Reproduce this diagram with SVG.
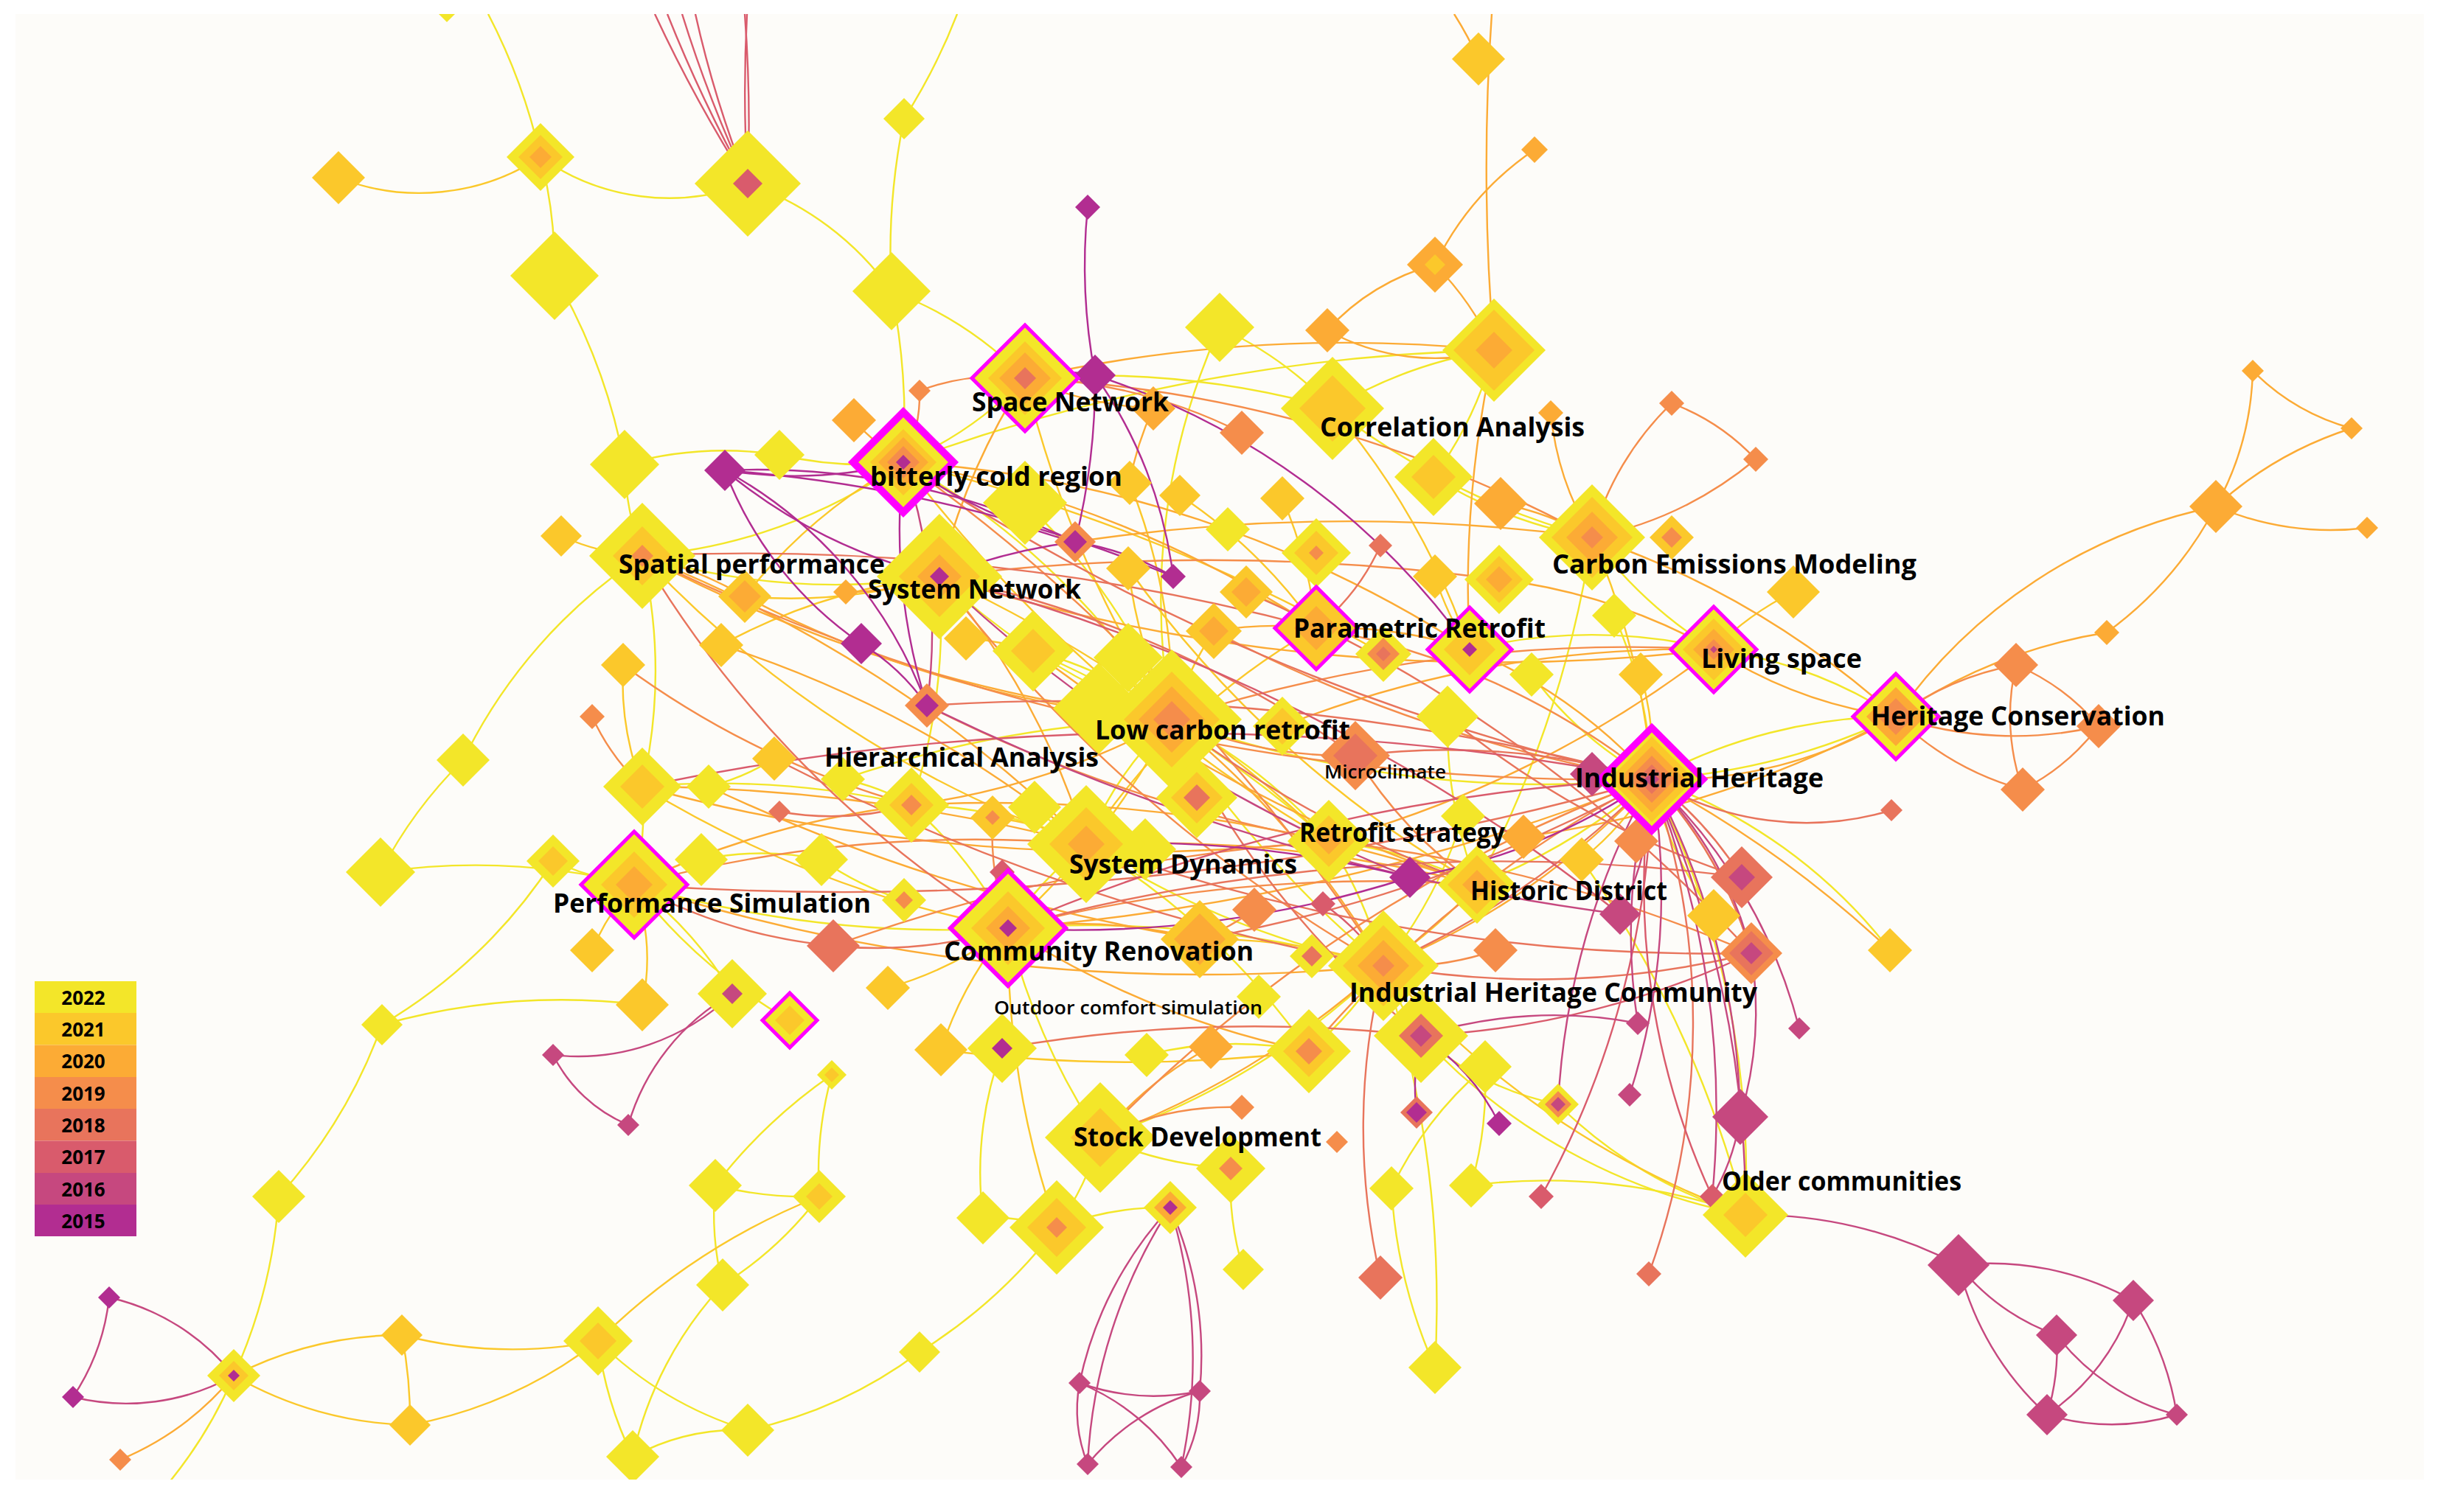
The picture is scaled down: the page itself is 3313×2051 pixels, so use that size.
<svg xmlns="http://www.w3.org/2000/svg" width="3313" height="2051" viewBox="0 0 3313 2051">
<defs>
<path id="d" d="M0,-1L1,0L0,1L-1,0Z"/>
<clipPath id="cp"><rect x="21" y="19" width="3266" height="1988"/></clipPath>
<style>
.a{fill:#f3e629}.b{fill:#fbc82b}.c{fill:#fcab35}.e{fill:#f58d4b}.f{fill:#e8745c}.g{fill:#d95b6c}.h{fill:#c6487f}.i{fill:#b22d91}
.hl{fill:none;stroke:#ff00ff;stroke-linejoin:miter}
#edges path{fill:none;stroke-width:2.4}
.la{stroke:#f3e629}.lb{stroke:#fbc82b}.lc{stroke:#fcab35}.le{stroke:#f58d4b}.lf{stroke:#e8745c}.lg{stroke:#d95b6c}.lh{stroke:#c6487f}.li{stroke:#b22d91}
.lbl{font-family:"Open Sans","Noto Sans","Liberation Sans",sans-serif;font-weight:700;font-size:36px;fill:#000}
.sm{font-size:25px;font-weight:600}
.lg2{font-family:"Open Sans","Noto Sans","Liberation Sans",sans-serif;font-weight:700;font-size:26px;fill:#000;text-anchor:middle}
</style>
</defs>
<rect width="3313" height="2051" fill="#ffffff"/>
<rect x="21" y="19" width="3266" height="1988" fill="#fdfcf9"/>
<g clip-path="url(#cp)">
<g id="edges">
<g class="la">
<path d="M662,19A800,800 0 0 1 733,213"/>
<path d="M733,213A300,300 0 0 0 1014,249"/>
<path d="M733,213A600,600 0 0 1 752,374"/>
<path d="M752,374A800,800 0 0 1 847,630"/>
<path d="M1014,249A400,400 0 0 1 1209,395"/>
<path d="M1209,395A500,500 0 0 1 1390,513"/>
<path d="M1298,19A800,800 0 0 1 1226,161"/>
<path d="M1226,161A900,900 0 0 0 1209,395"/>
<path d="M1209,395A900,900 0 0 1 1225,627"/>
<path d="M847,630A500,500 0 0 1 1057,617"/>
<path d="M1057,617A500,500 0 0 0 1225,627"/>
<path d="M847,630A400,400 0 0 0 871,754"/>
<path d="M871,754A700,700 0 0 1 871,1067"/>
<path d="M1225,627A700,700 0 0 1 871,754"/>
<path d="M1654,444A500,500 0 0 1 1807,554"/>
<path d="M1807,554A600,600 0 0 1 2026,475"/>
<path d="M2026,475A500,500 0 0 1 1944,647"/>
<path d="M1944,647A600,600 0 0 0 2159,729"/>
<path d="M2159,729A600,600 0 0 0 2324,881"/>
<path d="M1390,682A800,800 0 0 1 1589,976"/>
<path d="M1274,782A900,900 0 0 0 1589,976"/>
<path d="M1589,976A700,700 0 0 1 1802,1141"/>
<path d="M1802,1141A600,600 0 0 1 1876,1310"/>
<path d="M1473,1145A500,500 0 0 0 1367,1259"/>
<path d="M1367,1259A900,900 0 0 0 1492,1543"/>
<path d="M1492,1543A400,400 0 0 1 1433,1665"/>
<path d="M1492,1543A500,500 0 0 0 1669,1585"/>
<path d="M1876,1310A500,500 0 0 1 1775,1426"/>
<path d="M1876,1310A400,400 0 0 0 1927,1405"/>
<path d="M2003,1200A800,800 0 0 0 2240,1057"/>
<path d="M2240,1057A700,700 0 0 1 2571,972"/>
<path d="M860,1200A900,900 0 0 0 516,1183"/>
<path d="M860,1200A500,500 0 0 1 993,1348"/>
<path d="M860,1200A700,700 0 0 0 1071,1384"/>
<path d="M516,1183A600,600 0 0 1 628,1031"/>
<path d="M378,1623A700,700 0 0 0 518,1390"/>
<path d="M518,1390A700,700 0 0 0 750,1168"/>
<path d="M518,1390A900,900 0 0 1 871,1363"/>
<path d="M378,1623A700,700 0 0 1 317,1866"/>
<path d="M317,1866A600,600 0 0 1 230,2010"/>
<path d="M811,1819A500,500 0 0 0 1014,1940"/>
<path d="M811,1819A500,500 0 0 0 858,1976"/>
<path d="M858,1976A300,300 0 0 1 1014,1940"/>
<path d="M980,1743A500,500 0 0 0 858,1976"/>
<path d="M980,1743A400,400 0 0 1 970,1608"/>
<path d="M980,1743A500,500 0 0 0 1111,1623"/>
<path d="M970,1608A500,500 0 0 0 1111,1623"/>
<path d="M970,1608A700,700 0 0 1 1128,1458"/>
<path d="M1111,1623A500,500 0 0 1 1128,1458"/>
<path d="M1014,1940A600,600 0 0 0 1247,1834"/>
<path d="M1247,1834A700,700 0 0 0 1433,1665"/>
<path d="M1946,1855A700,700 0 0 1 1887,1612"/>
<path d="M1887,1612A500,500 0 0 1 2014,1447"/>
<path d="M1995,1608A500,500 0 0 0 2014,1447"/>
<path d="M1686,1722A400,400 0 0 1 1669,1585"/>
<path d="M2367,1648A1200,1200 0 0 0 2240,1057"/>
<path d="M2367,1648A800,800 0 0 1 1927,1405"/>
<path d="M2113,1498A600,600 0 0 0 2367,1648"/>
<path d="M1995,1608A800,800 0 0 1 2367,1648"/>
<path d="M628,1031A700,700 0 0 1 871,754"/>
<path d="M750,1168A400,400 0 0 0 860,1200"/>
<path d="M951,1166A400,400 0 0 1 1114,1166"/>
<path d="M1114,1166A400,400 0 0 0 1226,1221"/>
<path d="M1236,1092A600,600 0 0 1 1473,1145"/>
<path d="M1403,1095A300,300 0 0 0 1473,1145"/>
<path d="M1401,883A500,500 0 0 1 1589,976"/>
<path d="M1530,892A500,500 0 0 0 1623,1082"/>
<path d="M1993,881A700,700 0 0 1 2324,881"/>
<path d="M2077,915A500,500 0 0 0 2240,1057"/>
<path d="M2189,835A600,600 0 0 1 2240,1057"/>
<path d="M1963,972A600,600 0 0 0 2003,1200"/>
<path d="M1984,1107A600,600 0 0 1 1876,1310"/>
<path d="M2324,1242A500,500 0 0 1 2240,1057"/>
<path d="M2563,1289A700,700 0 0 0 2240,1057"/>
<path d="M1946,1855A1500,1500 0 0 0 1876,1310"/>
<path d="M1433,1665A400,400 0 0 1 1587,1638"/>
<path d="M1775,1426A500,500 0 0 0 1555,1431"/>
<path d="M1333,1652A500,500 0 0 1 1359,1422"/>
<path d="M1433,1665A300,300 0 0 0 1333,1652"/>
<path d="M2324,881A600,600 0 0 1 2571,972"/>
<path d="M1225,627A500,500 0 0 0 1390,513"/>
<path d="M1225,627A1000,1000 0 0 1 1589,976"/>
<path d="M871,1067A400,400 0 0 1 860,1200"/>
<path d="M871,754A900,900 0 0 0 1274,782"/>
<path d="M1473,1145A1200,1200 0 0 0 1876,1310"/>
<path d="M1367,1259A1500,1500 0 0 1 1876,1310"/>
<path d="M1589,976A1500,1500 0 0 0 2240,1057"/>
<path d="M1390,513A1200,1200 0 0 1 1807,554"/>
<path d="M1807,554A1000,1000 0 0 0 2159,729"/>
<path d="M1274,782A800,800 0 0 1 1236,1092"/>
<path d="M1589,976A500,500 0 0 0 1473,1145"/>
<path d="M1802,1141A600,600 0 0 1 2003,1200"/>
<path d="M1876,1310A1000,1000 0 0 1 1492,1543"/>
<path d="M860,1200A1500,1500 0 0 0 1367,1259"/>
<path d="M871,1067A1200,1200 0 0 1 1236,1092"/>
<path d="M1236,1092A600,600 0 0 1 1367,1259"/>
<path d="M961,1067A300,300 0 0 0 1050,1029"/>
<path d="M1143,1057A300,300 0 0 1 1236,1092"/>
<path d="M1927,1405A400,400 0 0 0 2113,1498"/>
<path d="M1654,444A900,900 0 0 0 1589,976"/>
<path d="M2571,972A900,900 0 0 1 2240,1057"/>
<path d="M1143,1057A1500,1500 0 0 1 1589,976"/>
<path d="M1530,892A1500,1500 0 0 0 1876,1310"/>
<path d="M2145,1166A1500,1500 0 0 1 2367,1648"/>
<path d="M1225,627A2500,2500 0 0 1 2026,475"/>
<path d="M1473,1145A1000,1000 0 0 1 1775,1426"/>
<path d="M2159,729A1500,1500 0 0 1 2003,1200"/>
<path d="M1401,883A1500,1500 0 0 1 1802,1141"/>
</g>
<g class="lb">
<path d="M459,241A300,300 0 0 0 733,213"/>
<path d="M761,727A300,300 0 0 0 871,754"/>
<path d="M1010,809A700,700 0 0 0 1274,782"/>
<path d="M978,875A800,800 0 0 1 1274,782"/>
<path d="M845,902A400,400 0 0 0 871,1067"/>
<path d="M1310,866A400,400 0 0 1 1401,883"/>
<path d="M1532,655A800,800 0 0 1 1589,976"/>
<path d="M1739,676A600,600 0 0 1 1785,852"/>
<path d="M1946,782A400,400 0 0 0 1993,881"/>
<path d="M2432,803A400,400 0 0 0 2324,881"/>
<path d="M2225,915A400,400 0 0 1 2240,1057"/>
<path d="M1646,856A500,500 0 0 0 1589,976"/>
<path d="M545,1811A500,500 0 0 0 317,1866"/>
<path d="M556,1933A500,500 0 0 1 317,1866"/>
<path d="M545,1811A600,600 0 0 0 811,1819"/>
<path d="M556,1933A600,600 0 0 0 811,1819"/>
<path d="M545,1811A600,600 0 0 1 556,1933"/>
<path d="M811,1819A900,900 0 0 1 1111,1623"/>
<path d="M803,1289A300,300 0 0 1 860,1200"/>
<path d="M871,1363A300,300 0 0 0 860,1200"/>
<path d="M1204,1340A500,500 0 0 0 1367,1259"/>
<path d="M1276,1424A500,500 0 0 1 1367,1259"/>
<path d="M2145,1166A400,400 0 0 0 2240,1057"/>
<path d="M1627,1274A800,800 0 0 1 1876,1310"/>
<path d="M1690,803A400,400 0 0 1 1785,852"/>
<path d="M1530,771A700,700 0 0 0 1589,976"/>
<path d="M1600,672A700,700 0 0 1 1785,852"/>
<path d="M1010,809A700,700 0 0 1 1225,627"/>
<path d="M1346,1109A400,400 0 0 1 1473,1145"/>
<path d="M1274,782A2000,2000 0 0 1 1802,1141"/>
<path d="M871,754A1500,1500 0 0 0 1473,1145"/>
<path d="M1225,627A2000,2000 0 0 0 1802,1141"/>
<path d="M1390,513A1500,1500 0 0 0 1589,976"/>
<path d="M2159,729A1000,1000 0 0 1 2240,1057"/>
<path d="M1785,852A900,900 0 0 0 1473,1145"/>
<path d="M2003,1200A700,700 0 0 1 1876,1310"/>
<path d="M1876,1310A1200,1200 0 0 0 2367,1648"/>
<path d="M1367,1259A1200,1200 0 0 0 1433,1665"/>
<path d="M871,1067A1500,1500 0 0 0 1367,1259"/>
<path d="M1530,771A1500,1500 0 0 0 2003,1200"/>
<path d="M1276,1424A2000,2000 0 0 0 1775,1426"/>
<path d="M1225,627A2500,2500 0 0 1 1876,887"/>
<path d="M1807,554A1000,1000 0 0 1 1993,881"/>
<path d="M1589,976A1000,1000 0 0 1 1367,1259"/>
</g>
<g class="lc">
<path d="M1972,19A500,500 0 0 1 2005,80"/>
<path d="M2023,19A3000,3000 0 0 0 2026,475"/>
<path d="M2081,203A400,400 0 0 0 1946,359"/>
<path d="M1946,359A300,300 0 0 0 1800,448"/>
<path d="M1800,448A300,300 0 0 0 2026,475"/>
<path d="M1946,359A400,400 0 0 1 2026,475"/>
<path d="M1158,570A300,300 0 0 0 1225,627"/>
<path d="M1564,554A500,500 0 0 1 1390,513"/>
<path d="M1564,554A400,400 0 0 0 1532,655"/>
<path d="M2035,683A400,400 0 0 1 2159,729"/>
<path d="M2103,560A400,400 0 0 0 2159,729"/>
<path d="M2033,786A800,800 0 0 1 2324,881"/>
<path d="M1646,856A500,500 0 0 1 1785,852"/>
<path d="M1785,852A600,600 0 0 1 1993,881"/>
<path d="M1627,1274A700,700 0 0 0 1367,1259"/>
<path d="M1642,1420A500,500 0 0 0 1492,1543"/>
<path d="M2571,972A700,700 0 0 1 3005,687"/>
<path d="M3005,687A400,400 0 0 0 3055,503"/>
<path d="M3005,687A500,500 0 0 1 3189,581"/>
<path d="M3005,687A400,400 0 0 0 3210,716"/>
<path d="M3055,503A300,300 0 0 0 3189,581"/>
<path d="M2857,858A500,500 0 0 0 3005,687"/>
<path d="M2571,972A700,700 0 0 1 2857,858"/>
<path d="M1147,803A400,400 0 0 0 1274,782"/>
<path d="M1010,809A500,500 0 0 0 871,754"/>
<path d="M163,1980A400,400 0 0 0 317,1866"/>
<path d="M871,754A2000,2000 0 0 0 1589,976"/>
<path d="M1274,782A2500,2500 0 0 0 2324,881"/>
<path d="M860,1200A2500,2500 0 0 0 1876,1310"/>
<path d="M1225,627A1500,1500 0 0 1 1785,852"/>
<path d="M871,1067A2500,2500 0 0 0 1802,1141"/>
<path d="M1236,1092A2000,2000 0 0 1 2003,1200"/>
<path d="M1390,513A900,900 0 0 0 1274,782"/>
<path d="M1274,782A1000,1000 0 0 1 1473,1145"/>
<path d="M1473,1145A1800,1800 0 0 1 2003,1200"/>
<path d="M2240,1057A600,600 0 0 0 2571,972"/>
<path d="M2159,729A1200,1200 0 0 1 2571,972"/>
<path d="M1993,881A700,700 0 0 1 2240,1057"/>
<path d="M1589,976A1200,1200 0 0 1 1876,1310"/>
<path d="M1367,1259A1200,1200 0 0 0 1775,1426"/>
<path d="M1876,1310A1000,1000 0 0 0 2240,1057"/>
<path d="M1802,1141A1500,1500 0 0 0 2324,881"/>
<path d="M2324,881A600,600 0 0 0 2571,972"/>
<path d="M2240,1057A600,600 0 0 1 2375,1293"/>
<path d="M1236,1092A1000,1000 0 0 0 1589,976"/>
<path d="M860,1200A1200,1200 0 0 1 1236,1092"/>
<path d="M871,754A1800,1800 0 0 1 1473,1145"/>
<path d="M1225,627A1600,1600 0 0 1 1993,881"/>
<path d="M2240,1057A1500,1500 0 0 1 2563,1289"/>
<path d="M1492,1543A1200,1200 0 0 0 1876,1310"/>
<path d="M1010,809A1500,1500 0 0 0 1589,976"/>
<path d="M978,875A1500,1500 0 0 1 1473,1145"/>
<path d="M961,1067A2500,2500 0 0 0 1627,1274"/>
<path d="M1458,735A2500,2500 0 0 1 2159,729"/>
<path d="M1739,985A1500,1500 0 0 1 2324,881"/>
<path d="M2066,1135A1500,1500 0 0 0 2571,972"/>
<path d="M1390,513A2000,2000 0 0 1 2026,475"/>
<path d="M871,1067A2500,2500 0 0 1 1473,1145"/>
<path d="M1367,1259A3000,3000 0 0 0 2240,1057"/>
<path d="M2026,475A1500,1500 0 0 0 1993,881"/>
<path d="M1401,883A2000,2000 0 0 0 2003,1200"/>
</g>
<g class="le">
<path d="M2267,547A400,400 0 0 0 2159,729"/>
<path d="M2381,623A500,500 0 0 1 2159,729"/>
<path d="M2267,547A300,300 0 0 1 2381,623"/>
<path d="M1684,587A700,700 0 0 0 1390,513"/>
<path d="M1247,530A200,200 0 0 1 1225,627"/>
<path d="M1247,530A300,300 0 0 1 1390,513"/>
<path d="M1838,1025A600,600 0 0 1 1589,976"/>
<path d="M2734,902A400,400 0 0 0 2571,972"/>
<path d="M2846,985A500,500 0 0 1 2571,972"/>
<path d="M2743,1071A400,400 0 0 1 2571,972"/>
<path d="M2734,902A300,300 0 0 0 2743,1071"/>
<path d="M2734,902A300,300 0 0 1 2846,985"/>
<path d="M2743,1071A300,300 0 0 0 2846,985"/>
<path d="M2219,1141A300,300 0 0 0 2240,1057"/>
<path d="M2028,1289A400,400 0 0 1 1876,1310"/>
<path d="M1684,1502A400,400 0 0 0 1492,1543"/>
<path d="M1346,1109A400,400 0 0 0 1367,1259"/>
<path d="M803,972A300,300 0 0 0 871,1067"/>
<path d="M1701,1234A300,300 0 0 1 1627,1274"/>
<path d="M1225,627A2500,2500 0 0 1 1876,1310"/>
<path d="M1274,782A2000,2000 0 0 0 1876,1310"/>
<path d="M871,754A3000,3000 0 0 0 2240,1057"/>
<path d="M1589,976A2000,2000 0 0 1 2324,881"/>
<path d="M1785,852A1000,1000 0 0 1 2240,1057"/>
<path d="M1367,1259A2000,2000 0 0 1 2003,1200"/>
<path d="M860,1200A1800,1800 0 0 1 1473,1145"/>
<path d="M1390,513A1800,1800 0 0 1 2159,729"/>
<path d="M1492,1543A2000,2000 0 0 1 2240,1057"/>
<path d="M845,902A1200,1200 0 0 0 1236,1092"/>
<path d="M1257,957A2000,2000 0 0 0 1802,1141"/>
<path d="M1646,856A2000,2000 0 0 0 2240,1057"/>
<path d="M1775,1426A1500,1500 0 0 1 2240,1057"/>
<path d="M1130,1283A2500,2500 0 0 1 1802,1141"/>
<path d="M1274,782A3000,3000 0 0 1 2033,786"/>
<path d="M1802,1141A2000,2000 0 0 1 2375,1293"/>
<path d="M1838,1025A600,600 0 0 0 2003,1200"/>
</g>
<g class="lf">
<path d="M2565,1099A400,400 0 0 1 2240,1057"/>
<path d="M2362,1190A500,500 0 0 0 2240,1057"/>
<path d="M2375,1293A600,600 0 0 0 2240,1057"/>
<path d="M1872,1733A900,900 0 0 1 1876,1310"/>
<path d="M2236,1728A1000,1000 0 0 0 2240,1057"/>
<path d="M1057,1101A400,400 0 0 0 1236,1092"/>
<path d="M1130,1283A600,600 0 0 0 1367,1259"/>
<path d="M1872,740A300,300 0 0 1 1785,852"/>
<path d="M860,1200A4000,4000 0 0 0 2240,1057"/>
<path d="M1257,957A3000,3000 0 0 1 2240,1057"/>
<path d="M1225,627A3000,3000 0 0 0 2240,1057"/>
<path d="M1473,1145A2500,2500 0 0 0 2375,1293"/>
<path d="M1367,1259A2500,2500 0 0 1 2362,1190"/>
<path d="M1589,976A1200,1200 0 0 0 1927,1405"/>
<path d="M871,754A1500,1500 0 0 0 1367,1259"/>
<path d="M1838,1025A1000,1000 0 0 1 2240,1057"/>
<path d="M1876,1310A1200,1200 0 0 0 2375,1293"/>
<path d="M1274,782A1500,1500 0 0 1 1838,1025"/>
<path d="M1130,1283A700,700 0 0 1 860,1200"/>
<path d="M1050,1029A3000,3000 0 0 0 1876,1310"/>
<path d="M1690,803A2000,2000 0 0 1 2375,1293"/>
<path d="M1963,972A1200,1200 0 0 0 2362,1190"/>
<path d="M1627,1274A2000,2000 0 0 0 2240,1057"/>
<path d="M1359,1422A2000,2000 0 0 1 1927,1405"/>
<path d="M871,754A3000,3000 0 0 1 1785,852"/>
<path d="M1589,976A1500,1500 0 0 0 2003,1200"/>
<path d="M2240,1057A1200,1200 0 0 1 1876,1310"/>
</g>
<g class="lg">
<path d="M888,19A2000,2000 0 0 0 1014,249"/>
<path d="M905,19A2000,2000 0 0 0 1014,249"/>
<path d="M925,19A1800,1800 0 0 0 1014,249"/>
<path d="M943,19A1500,1500 0 0 0 1014,249"/>
<path d="M1010,19A2000,2000 0 0 1 1014,249"/>
<path d="M1013,19A2000,2000 0 0 0 1014,249"/>
<path d="M1359,1183A300,300 0 0 0 1367,1259"/>
<path d="M1794,1226A300,300 0 0 1 1876,1310"/>
<path d="M2090,1623A1200,1200 0 0 0 2240,1057"/>
<path d="M2322,1623A1000,1000 0 0 1 2240,1057"/>
<path d="M871,1067A3500,3500 0 0 1 2240,1057"/>
<path d="M1274,782A2500,2500 0 0 1 2197,1240"/>
<path d="M1367,1259A2500,2500 0 0 1 2240,1057"/>
<path d="M1927,1405A1200,1200 0 0 0 2375,1293"/>
</g>
<g class="lh">
<path d="M750,1431A300,300 0 0 0 993,1348"/>
<path d="M852,1526A300,300 0 0 1 993,1348"/>
<path d="M750,1431A200,200 0 0 0 852,1526"/>
<path d="M2159,1050A200,200 0 0 1 2240,1057"/>
<path d="M2240,1057A1000,1000 0 0 1 2360,1515"/>
<path d="M2240,1057A800,800 0 0 0 2221,1388"/>
<path d="M2240,1057A900,900 0 0 1 2210,1485"/>
<path d="M2240,1057A1000,1000 0 0 0 2113,1498"/>
<path d="M2240,1057A700,700 0 0 1 2440,1395"/>
<path d="M2240,1057A500,500 0 0 1 2375,1293"/>
<path d="M2240,1057A1200,1200 0 0 1 2322,1623"/>
<path d="M2656,1716A600,600 0 0 0 2367,1648"/>
<path d="M2656,1716A300,300 0 0 0 2789,1811"/>
<path d="M2656,1716A400,400 0 0 1 2893,1764"/>
<path d="M2656,1716A400,400 0 0 0 2776,1919"/>
<path d="M2789,1811A300,300 0 0 1 2776,1919"/>
<path d="M2893,1764A400,400 0 0 1 2952,1919"/>
<path d="M2789,1811A300,300 0 0 0 2952,1919"/>
<path d="M2776,1919A300,300 0 0 0 2952,1919"/>
<path d="M2893,1764A300,300 0 0 1 2776,1919"/>
<path d="M1587,1638A500,500 0 0 0 1464,1876"/>
<path d="M1587,1638A500,500 0 0 1 1627,1887"/>
<path d="M1587,1638A700,700 0 0 0 1475,1986"/>
<path d="M1587,1638A700,700 0 0 1 1602,1990"/>
<path d="M1464,1876A200,200 0 0 0 1475,1986"/>
<path d="M1627,1887A200,200 0 0 1 1602,1990"/>
<path d="M1464,1876A300,300 0 0 1 1602,1990"/>
<path d="M1627,1887A300,300 0 0 0 1475,1986"/>
<path d="M1464,1876A300,300 0 0 0 1627,1887"/>
<path d="M317,1866A300,300 0 0 0 148,1760"/>
<path d="M317,1866A300,300 0 0 1 99,1895"/>
<path d="M148,1760A300,300 0 0 1 99,1895"/>
<path d="M2197,1240A400,400 0 0 0 2240,1057"/>
<path d="M2360,1515A300,300 0 0 1 2322,1623"/>
<path d="M2375,1293A500,500 0 0 1 2360,1515"/>
<path d="M1927,1405A600,600 0 0 1 2221,1388"/>
<path d="M1225,627A700,700 0 0 1 1257,957"/>
<path d="M2240,1057A1400,1400 0 0 1 2367,1648"/>
<path d="M1274,782A2000,2000 0 0 0 1912,1190"/>
<path d="M1257,957A3000,3000 0 0 0 2197,1240"/>
</g>
<g class="li">
<path d="M1475,281A800,800 0 0 0 1485,509"/>
<path d="M1485,509A600,600 0 0 1 1591,782"/>
<path d="M1485,509A1000,1000 0 0 1 1993,881"/>
<path d="M1485,509A200,200 0 0 0 1390,513"/>
<path d="M983,638A1000,1000 0 0 1 1458,735"/>
<path d="M983,638A600,600 0 0 1 1257,957"/>
<path d="M983,638A500,500 0 0 0 1168,873"/>
<path d="M983,638A700,700 0 0 0 1274,782"/>
<path d="M1225,627A800,800 0 0 0 1257,957"/>
<path d="M1168,873A300,300 0 0 1 1257,957"/>
<path d="M1912,1190A1500,1500 0 0 0 1473,1145"/>
<path d="M1912,1190A800,800 0 0 0 2240,1057"/>
<path d="M1921,1509A300,300 0 0 1 1927,1405"/>
<path d="M2033,1524A300,300 0 0 0 1927,1405"/>
<path d="M1458,735A400,400 0 0 1 1591,782"/>
<path d="M1274,782A800,800 0 0 1 1458,735"/>
<path d="M1225,627A700,700 0 0 0 1458,735"/>
<path d="M1367,1259A1500,1500 0 0 0 1912,1190"/>
<path d="M983,638A600,600 0 0 0 1225,627"/>
<path d="M1485,509A900,900 0 0 1 1458,735"/>
<path d="M983,638A2000,2000 0 0 1 1591,782"/>
</g>
</g>
<g id="nodes">
<g id="n1" transform="translate(606,17)"><use href="#d" class="a" transform="scale(13)"/></g>
<g id="n2" transform="translate(459,241)"><use href="#d" class="b" transform="scale(36)"/></g>
<g id="n3" transform="translate(733,213)"><use href="#d" class="a" transform="scale(46)"/><use href="#d" class="b" transform="scale(30)"/><use href="#d" class="c" transform="scale(15)"/></g>
<g id="n4" transform="translate(1014,249)"><use href="#d" class="a" transform="scale(72)"/><use href="#d" class="g" transform="scale(20)"/></g>
<g id="n5" transform="translate(1226,161)"><use href="#d" class="a" transform="scale(28)"/></g>
<g id="n6" transform="translate(752,374)"><use href="#d" class="a" transform="scale(60)"/></g>
<g id="n7" transform="translate(1209,395)"><use href="#d" class="a" transform="scale(53)"/></g>
<g id="n8" transform="translate(2005,80)"><use href="#d" class="b" transform="scale(36)"/></g>
<g id="n9" transform="translate(2081,203)"><use href="#d" class="c" transform="scale(18)"/></g>
<g id="n10" transform="translate(1475,281)"><use href="#d" class="i" transform="scale(17)"/></g>
<g id="n11" transform="translate(1946,359)"><use href="#d" class="c" transform="scale(38)"/><use href="#d" class="b" transform="scale(14)"/></g>
<g id="n12" transform="translate(1654,444)"><use href="#d" class="a" transform="scale(47)"/></g>
<g id="n13" transform="translate(1800,448)"><use href="#d" class="c" transform="scale(30)"/></g>
<g id="n14" transform="translate(2026,475)"><use href="#d" class="a" transform="scale(70)"/><use href="#d" class="b" transform="scale(55)"/><use href="#d" class="c" transform="scale(25)"/></g>
<g id="n16" transform="translate(1485,509)"><use href="#d" class="i" transform="scale(28)"/></g>
<g id="n15" transform="translate(1390,513)"><use href="#d" class="a" transform="scale(72)"/><use href="#d" class="b" transform="scale(50)"/><use href="#d" class="c" transform="scale(35)"/><use href="#d" class="f" transform="scale(15)"/><path class="hl" stroke-width="5" d="M0,-72L72,0L0,72L-72,0Z"/></g>
<g id="n17" transform="translate(1247,530)"><use href="#d" class="e" transform="scale(15)"/></g>
<g id="n18" transform="translate(1158,570)"><use href="#d" class="c" transform="scale(30)"/></g>
<g id="n20" transform="translate(1057,617)"><use href="#d" class="a" transform="scale(34)"/></g>
<g id="n21" transform="translate(983,638)"><use href="#d" class="i" transform="scale(28)"/></g>
<g id="n22" transform="translate(847,630)"><use href="#d" class="a" transform="scale(47)"/></g>
<g id="n23" transform="translate(1684,587)"><use href="#d" class="e" transform="scale(30)"/></g>
<g id="n24" transform="translate(1564,554)"><use href="#d" class="c" transform="scale(30)"/></g>
<g id="n25" transform="translate(1807,554)"><use href="#d" class="a" transform="scale(70)"/><use href="#d" class="b" transform="scale(45)"/></g>
<g id="n26" transform="translate(1944,647)"><use href="#d" class="a" transform="scale(53)"/><use href="#d" class="b" transform="scale(30)"/></g>
<g id="n27" transform="translate(2035,683)"><use href="#d" class="c" transform="scale(36)"/></g>
<g id="n28" transform="translate(2103,560)"><use href="#d" class="c" transform="scale(17)"/></g>
<g id="n29" transform="translate(2267,547)"><use href="#d" class="e" transform="scale(17)"/></g>
<g id="n30" transform="translate(2381,623)"><use href="#d" class="e" transform="scale(17)"/></g>
<g id="n31" transform="translate(2159,729)"><use href="#d" class="a" transform="scale(72)"/><use href="#d" class="b" transform="scale(55)"/><use href="#d" class="c" transform="scale(35)"/><use href="#d" class="e" transform="scale(15)"/></g>
<g id="n32" transform="translate(2267,729)"><use href="#d" class="b" transform="scale(30)"/><use href="#d" class="e" transform="scale(14)"/></g>
<g id="n33" transform="translate(2432,803)"><use href="#d" class="b" transform="scale(36)"/></g>
<g id="n34" transform="translate(2189,835)"><use href="#d" class="a" transform="scale(30)"/></g>
<g id="n35" transform="translate(761,727)"><use href="#d" class="b" transform="scale(28)"/></g>
<g id="n36" transform="translate(871,754)"><use href="#d" class="a" transform="scale(72)"/><use href="#d" class="b" transform="scale(40)"/><use href="#d" class="e" transform="scale(15)"/></g>
<g id="n38" transform="translate(1390,682)"><use href="#d" class="a" transform="scale(57)"/></g>
<g id="n39" transform="translate(1532,655)"><use href="#d" class="b" transform="scale(30)"/></g>
<g id="n40" transform="translate(1600,672)"><use href="#d" class="b" transform="scale(28)"/></g>
<g id="n41" transform="translate(1458,735)"><use href="#d" class="e" transform="scale(28)"/><use href="#d" class="i" transform="scale(16)"/></g>
<g id="n42" transform="translate(1591,782)"><use href="#d" class="i" transform="scale(17)"/></g>
<g id="n43" transform="translate(1530,771)"><use href="#d" class="b" transform="scale(30)"/></g>
<g id="n44" transform="translate(1665,718)"><use href="#d" class="a" transform="scale(30)"/></g>
<g id="n45" transform="translate(1739,676)"><use href="#d" class="b" transform="scale(30)"/></g>
<g id="n46" transform="translate(1785,750)"><use href="#d" class="a" transform="scale(47)"/><use href="#d" class="b" transform="scale(30)"/><use href="#d" class="e" transform="scale(10)"/></g>
<g id="n47" transform="translate(1872,740)"><use href="#d" class="f" transform="scale(16)"/></g>
<g id="n48" transform="translate(1946,782)"><use href="#d" class="b" transform="scale(30)"/></g>
<g id="n49" transform="translate(2033,786)"><use href="#d" class="a" transform="scale(47)"/><use href="#d" class="b" transform="scale(32)"/><use href="#d" class="c" transform="scale(18)"/></g>
<g id="n50" transform="translate(1690,803)"><use href="#d" class="b" transform="scale(36)"/><use href="#d" class="c" transform="scale(20)"/></g>
<g id="n51" transform="translate(1010,809)"><use href="#d" class="b" transform="scale(36)"/><use href="#d" class="c" transform="scale(22)"/></g>
<g id="n53" transform="translate(1147,803)"><use href="#d" class="c" transform="scale(17)"/></g>
<g id="n37" transform="translate(1274,782)"><use href="#d" class="a" transform="scale(85)"/><use href="#d" class="b" transform="scale(55)"/><use href="#d" class="c" transform="scale(30)"/><use href="#d" class="i" transform="scale(13)"/></g>
<g id="n19" transform="translate(1225,627)"><use href="#d" class="a" transform="scale(68)"/><use href="#d" class="b" transform="scale(45)"/><use href="#d" class="c" transform="scale(34)"/><use href="#d" class="e" transform="scale(22)"/><use href="#d" class="i" transform="scale(10)"/><path class="hl" stroke-width="10" d="M0,-68L68,0L0,68L-68,0Z"/></g>
<g id="n54" transform="translate(978,875)"><use href="#d" class="b" transform="scale(30)"/></g>
<g id="n55" transform="translate(845,902)"><use href="#d" class="b" transform="scale(30)"/></g>
<g id="n56" transform="translate(1168,873)"><use href="#d" class="i" transform="scale(28)"/></g>
<g id="n57" transform="translate(1310,866)"><use href="#d" class="b" transform="scale(30)"/></g>
<g id="n58" transform="translate(1401,883)"><use href="#d" class="a" transform="scale(55)"/><use href="#d" class="b" transform="scale(30)"/></g>
<g id="n59" transform="translate(1257,957)"><use href="#d" class="e" transform="scale(30)"/><use href="#d" class="i" transform="scale(16)"/></g>
<g id="n60" transform="translate(1530,892)"><use href="#d" class="a" transform="scale(47)"/></g>
<g id="n61" transform="translate(1646,856)"><use href="#d" class="b" transform="scale(38)"/><use href="#d" class="c" transform="scale(20)"/></g>
<g id="n63" transform="translate(1876,887)"><use href="#d" class="a" transform="scale(38)"/><use href="#d" class="e" transform="scale(22)"/><use href="#d" class="f" transform="scale(10)"/></g>
<g id="n62" transform="translate(1785,852)"><use href="#d" class="b" transform="scale(56)"/><use href="#d" class="c" transform="scale(30)"/><path class="hl" stroke-width="5" d="M0,-56L56,0L0,56L-56,0Z"/></g>
<g id="n64" transform="translate(1993,881)"><use href="#d" class="a" transform="scale(57)"/><use href="#d" class="b" transform="scale(35)"/><use href="#d" class="i" transform="scale(10)"/><path class="hl" stroke-width="5" d="M0,-57L57,0L0,57L-57,0Z"/></g>
<g id="n65" transform="translate(2077,915)"><use href="#d" class="a" transform="scale(30)"/></g>
<g id="n66" transform="translate(2225,915)"><use href="#d" class="b" transform="scale(30)"/></g>
<g id="n67" transform="translate(2324,881)"><use href="#d" class="a" transform="scale(58)"/><use href="#d" class="b" transform="scale(42)"/><use href="#d" class="c" transform="scale(28)"/><use href="#d" class="e" transform="scale(14)"/><use href="#d" class="h" transform="scale(5)"/><path class="hl" stroke-width="5" d="M0,-58L58,0L0,58L-58,0Z"/></g>
<g id="n69" transform="translate(1490,961)"><use href="#d" class="a" transform="scale(62)"/></g>
<g id="n68" transform="translate(1589,976)"><use href="#d" class="a" transform="scale(95)"/><use href="#d" class="b" transform="scale(65)"/><use href="#d" class="c" transform="scale(45)"/><use href="#d" class="e" transform="scale(25)"/></g>
<g id="n70" transform="translate(1739,985)"><use href="#d" class="a" transform="scale(40)"/><use href="#d" class="b" transform="scale(25)"/></g>
<g id="n71" transform="translate(1838,1025)"><use href="#d" class="e" transform="scale(47)"/><use href="#d" class="f" transform="scale(30)"/></g>
<g id="n72" transform="translate(1963,972)"><use href="#d" class="a" transform="scale(42)"/></g>
<g id="n73" transform="translate(803,972)"><use href="#d" class="e" transform="scale(17)"/></g>
<g id="n74" transform="translate(628,1031)"><use href="#d" class="a" transform="scale(36)"/></g>
<g id="n75" transform="translate(871,1067)"><use href="#d" class="a" transform="scale(53)"/><use href="#d" class="b" transform="scale(30)"/></g>
<g id="n76" transform="translate(961,1067)"><use href="#d" class="a" transform="scale(30)"/></g>
<g id="n77" transform="translate(1050,1029)"><use href="#d" class="b" transform="scale(30)"/></g>
<g id="n78" transform="translate(1057,1101)"><use href="#d" class="f" transform="scale(15)"/></g>
<g id="n79" transform="translate(1143,1057)"><use href="#d" class="a" transform="scale(30)"/></g>
<g id="n80" transform="translate(1236,1092)"><use href="#d" class="a" transform="scale(51)"/><use href="#d" class="b" transform="scale(30)"/><use href="#d" class="e" transform="scale(14)"/></g>
<g id="n81" transform="translate(1346,1109)"><use href="#d" class="b" transform="scale(30)"/><use href="#d" class="e" transform="scale(10)"/></g>
<g id="n82" transform="translate(1403,1095)"><use href="#d" class="a" transform="scale(36)"/></g>
<g id="n83" transform="translate(1623,1082)"><use href="#d" class="a" transform="scale(55)"/><use href="#d" class="b" transform="scale(35)"/><use href="#d" class="f" transform="scale(18)"/></g>
<g id="n84" transform="translate(1802,1141)"><use href="#d" class="a" transform="scale(56)"/><use href="#d" class="b" transform="scale(35)"/><use href="#d" class="c" transform="scale(18)"/></g>
<g id="n85" transform="translate(1984,1107)"><use href="#d" class="a" transform="scale(30)"/></g>
<g id="n86" transform="translate(2066,1135)"><use href="#d" class="c" transform="scale(30)"/></g>
<g id="n87" transform="translate(2159,1050)"><use href="#d" class="h" transform="scale(30)"/></g>
<g id="n89" transform="translate(2219,1141)"><use href="#d" class="e" transform="scale(30)"/></g>
<g id="n88" transform="translate(2240,1057)"><use href="#d" class="a" transform="scale(70)"/><use href="#d" class="b" transform="scale(58)"/><use href="#d" class="c" transform="scale(45)"/><use href="#d" class="e" transform="scale(32)"/><use href="#d" class="f" transform="scale(20)"/><use href="#d" class="h" transform="scale(10)"/><path class="hl" stroke-width="9" d="M0,-70L70,0L0,70L-70,0Z"/></g>
<g id="n90" transform="translate(2362,1190)"><use href="#d" class="f" transform="scale(42)"/><use href="#d" class="h" transform="scale(18)"/></g>
<g id="n91" transform="translate(2565,1099)"><use href="#d" class="f" transform="scale(15)"/></g>
<g id="n92" transform="translate(2571,972)"><use href="#d" class="a" transform="scale(58)"/><use href="#d" class="c" transform="scale(40)"/><use href="#d" class="e" transform="scale(25)"/><path class="hl" stroke-width="5" d="M0,-58L58,0L0,58L-58,0Z"/></g>
<g id="n93" transform="translate(2734,902)"><use href="#d" class="e" transform="scale(30)"/></g>
<g id="n94" transform="translate(2857,858)"><use href="#d" class="c" transform="scale(17)"/></g>
<g id="n95" transform="translate(2743,1071)"><use href="#d" class="e" transform="scale(30)"/></g>
<g id="n96" transform="translate(2846,985)"><use href="#d" class="e" transform="scale(30)"/></g>
<g id="n97" transform="translate(3005,687)"><use href="#d" class="c" transform="scale(36)"/></g>
<g id="n98" transform="translate(3055,503)"><use href="#d" class="c" transform="scale(15)"/></g>
<g id="n99" transform="translate(3189,581)"><use href="#d" class="c" transform="scale(15)"/></g>
<g id="n100" transform="translate(3210,716)"><use href="#d" class="c" transform="scale(15)"/></g>
<g id="n101" transform="translate(516,1183)"><use href="#d" class="a" transform="scale(47)"/></g>
<g id="n102" transform="translate(750,1168)"><use href="#d" class="a" transform="scale(36)"/><use href="#d" class="b" transform="scale(20)"/></g>
<g id="n103" transform="translate(860,1200)"><use href="#d" class="a" transform="scale(72)"/><use href="#d" class="b" transform="scale(45)"/><use href="#d" class="c" transform="scale(25)"/><path class="hl" stroke-width="5" d="M0,-72L72,0L0,72L-72,0Z"/></g>
<g id="n104" transform="translate(951,1166)"><use href="#d" class="a" transform="scale(36)"/></g>
<g id="n105" transform="translate(1114,1166)"><use href="#d" class="a" transform="scale(36)"/></g>
<g id="n106" transform="translate(1226,1221)"><use href="#d" class="a" transform="scale(30)"/><use href="#d" class="e" transform="scale(12)"/></g>
<g id="n108" transform="translate(1553,1152)"><use href="#d" class="a" transform="scale(42)"/></g>
<g id="n107" transform="translate(1473,1145)"><use href="#d" class="a" transform="scale(80)"/><use href="#d" class="b" transform="scale(50)"/><use href="#d" class="c" transform="scale(25)"/></g>
<g id="n110" transform="translate(1359,1183)"><use href="#d" class="g" transform="scale(17)"/></g>
<g id="n109" transform="translate(1367,1259)"><use href="#d" class="a" transform="scale(78)"/><use href="#d" class="b" transform="scale(50)"/><use href="#d" class="c" transform="scale(30)"/><use href="#d" class="i" transform="scale(12)"/><path class="hl" stroke-width="6" d="M0,-78L78,0L0,78L-78,0Z"/></g>
<g id="n111" transform="translate(1627,1274)"><use href="#d" class="b" transform="scale(53)"/><use href="#d" class="c" transform="scale(35)"/></g>
<g id="n112" transform="translate(1701,1234)"><use href="#d" class="e" transform="scale(30)"/></g>
<g id="n113" transform="translate(1794,1226)"><use href="#d" class="g" transform="scale(17)"/></g>
<g id="n114" transform="translate(1912,1190)"><use href="#d" class="i" transform="scale(28)"/></g>
<g id="n115" transform="translate(2003,1200)"><use href="#d" class="a" transform="scale(53)"/><use href="#d" class="b" transform="scale(40)"/><use href="#d" class="c" transform="scale(20)"/></g>
<g id="n116" transform="translate(2145,1166)"><use href="#d" class="b" transform="scale(30)"/></g>
<g id="n117" transform="translate(2197,1240)"><use href="#d" class="h" transform="scale(28)"/></g>
<g id="n118" transform="translate(2324,1242)"><use href="#d" class="b" transform="scale(36)"/></g>
<g id="n119" transform="translate(2375,1293)"><use href="#d" class="e" transform="scale(42)"/><use href="#d" class="f" transform="scale(30)"/><use href="#d" class="h" transform="scale(15)"/></g>
<g id="n120" transform="translate(2563,1289)"><use href="#d" class="b" transform="scale(30)"/></g>
<g id="n121" transform="translate(2028,1289)"><use href="#d" class="e" transform="scale(30)"/></g>
<g id="n124" transform="translate(1779,1297)"><use href="#d" class="a" transform="scale(30)"/><use href="#d" class="f" transform="scale(14)"/></g>
<g id="n122" transform="translate(1876,1310)"><use href="#d" class="a" transform="scale(75)"/><use href="#d" class="b" transform="scale(55)"/><use href="#d" class="c" transform="scale(35)"/><use href="#d" class="e" transform="scale(15)"/></g>
<g id="n123" transform="translate(1927,1405)"><use href="#d" class="a" transform="scale(64)"/><use href="#d" class="f" transform="scale(30)"/><use href="#d" class="h" transform="scale(15)"/></g>
<g id="n125" transform="translate(803,1289)"><use href="#d" class="b" transform="scale(30)"/></g>
<g id="n126" transform="translate(871,1363)"><use href="#d" class="b" transform="scale(36)"/></g>
<g id="n127" transform="translate(993,1348)"><use href="#d" class="a" transform="scale(47)"/><use href="#d" class="h" transform="scale(14)"/></g>
<g id="n128" transform="translate(1071,1384)"><use href="#d" class="a" transform="scale(37)"/><use href="#d" class="b" transform="scale(20)"/><path class="hl" stroke-width="5" d="M0,-37L37,0L0,37L-37,0Z"/></g>
<g id="n129" transform="translate(1130,1283)"><use href="#d" class="f" transform="scale(36)"/></g>
<g id="n130" transform="translate(1204,1340)"><use href="#d" class="b" transform="scale(30)"/></g>
<g id="n131" transform="translate(1276,1424)"><use href="#d" class="b" transform="scale(36)"/></g>
<g id="n132" transform="translate(1359,1422)"><use href="#d" class="a" transform="scale(47)"/><use href="#d" class="i" transform="scale(14)"/></g>
<g id="n133" transform="translate(1128,1458)"><use href="#d" class="a" transform="scale(20)"/><use href="#d" class="b" transform="scale(10)"/></g>
<g id="n134" transform="translate(750,1431)"><use href="#d" class="h" transform="scale(15)"/></g>
<g id="n135" transform="translate(852,1526)"><use href="#d" class="h" transform="scale(15)"/></g>
<g id="n136" transform="translate(518,1390)"><use href="#d" class="a" transform="scale(28)"/></g>
<g id="n137" transform="translate(1555,1431)"><use href="#d" class="a" transform="scale(30)"/></g>
<g id="n138" transform="translate(1642,1420)"><use href="#d" class="c" transform="scale(30)"/></g>
<g id="n139" transform="translate(1707,1352)"><use href="#d" class="a" transform="scale(30)"/></g>
<g id="n140" transform="translate(1775,1426)"><use href="#d" class="a" transform="scale(57)"/><use href="#d" class="b" transform="scale(35)"/><use href="#d" class="e" transform="scale(18)"/></g>
<g id="n141" transform="translate(2014,1447)"><use href="#d" class="a" transform="scale(36)"/></g>
<g id="n142" transform="translate(2113,1498)"><use href="#d" class="a" transform="scale(28)"/><use href="#d" class="e" transform="scale(18)"/><use href="#d" class="h" transform="scale(10)"/></g>
<g id="n143" transform="translate(2221,1388)"><use href="#d" class="h" transform="scale(16)"/></g>
<g id="n144" transform="translate(2210,1485)"><use href="#d" class="h" transform="scale(16)"/></g>
<g id="n145" transform="translate(1921,1509)"><use href="#d" class="f" transform="scale(22)"/><use href="#d" class="i" transform="scale(14)"/></g>
<g id="n146" transform="translate(2033,1524)"><use href="#d" class="i" transform="scale(17)"/></g>
<g id="n147" transform="translate(2360,1515)"><use href="#d" class="h" transform="scale(38)"/></g>
<g id="n148" transform="translate(2440,1395)"><use href="#d" class="h" transform="scale(15)"/></g>
<g id="n149" transform="translate(1684,1502)"><use href="#d" class="e" transform="scale(17)"/></g>
<g id="n150" transform="translate(1492,1543)"><use href="#d" class="a" transform="scale(75)"/><use href="#d" class="b" transform="scale(40)"/></g>
<g id="n151" transform="translate(1669,1585)"><use href="#d" class="a" transform="scale(47)"/><use href="#d" class="e" transform="scale(16)"/></g>
<g id="n152" transform="translate(1587,1638)"><use href="#d" class="a" transform="scale(36)"/><use href="#d" class="c" transform="scale(22)"/><use href="#d" class="i" transform="scale(10)"/></g>
<g id="n153" transform="translate(1813,1549)"><use href="#d" class="e" transform="scale(15)"/></g>
<g id="n154" transform="translate(1887,1612)"><use href="#d" class="a" transform="scale(30)"/></g>
<g id="n155" transform="translate(1995,1608)"><use href="#d" class="a" transform="scale(30)"/></g>
<g id="n156" transform="translate(2090,1623)"><use href="#d" class="g" transform="scale(17)"/></g>
<g id="n157" transform="translate(2322,1623)"><use href="#d" class="g" transform="scale(17)"/></g>
<g id="n158" transform="translate(2367,1648)"><use href="#d" class="a" transform="scale(58)"/><use href="#d" class="b" transform="scale(30)"/></g>
<g id="n159" transform="translate(2236,1728)"><use href="#d" class="f" transform="scale(17)"/></g>
<g id="n160" transform="translate(1872,1733)"><use href="#d" class="f" transform="scale(30)"/></g>
<g id="n161" transform="translate(1946,1855)"><use href="#d" class="a" transform="scale(36)"/></g>
<g id="n162" transform="translate(1686,1722)"><use href="#d" class="a" transform="scale(28)"/></g>
<g id="n163" transform="translate(1433,1665)"><use href="#d" class="a" transform="scale(64)"/><use href="#d" class="b" transform="scale(40)"/><use href="#d" class="e" transform="scale(14)"/></g>
<g id="n164" transform="translate(1333,1652)"><use href="#d" class="a" transform="scale(36)"/></g>
<g id="n165" transform="translate(1111,1623)"><use href="#d" class="a" transform="scale(36)"/><use href="#d" class="b" transform="scale(18)"/></g>
<g id="n166" transform="translate(970,1608)"><use href="#d" class="a" transform="scale(36)"/></g>
<g id="n167" transform="translate(980,1743)"><use href="#d" class="a" transform="scale(36)"/></g>
<g id="n168" transform="translate(378,1623)"><use href="#d" class="a" transform="scale(36)"/></g>
<g id="n169" transform="translate(1247,1834)"><use href="#d" class="a" transform="scale(28)"/></g>
<g id="n170" transform="translate(811,1819)"><use href="#d" class="a" transform="scale(47)"/><use href="#d" class="b" transform="scale(25)"/></g>
<g id="n171" transform="translate(545,1811)"><use href="#d" class="b" transform="scale(28)"/></g>
<g id="n172" transform="translate(556,1933)"><use href="#d" class="b" transform="scale(28)"/></g>
<g id="n173" transform="translate(317,1866)"><use href="#d" class="a" transform="scale(36)"/><use href="#d" class="b" transform="scale(20)"/><use href="#d" class="i" transform="scale(8)"/></g>
<g id="n174" transform="translate(148,1760)"><use href="#d" class="i" transform="scale(15)"/></g>
<g id="n175" transform="translate(99,1895)"><use href="#d" class="i" transform="scale(15)"/></g>
<g id="n176" transform="translate(163,1980)"><use href="#d" class="e" transform="scale(15)"/></g>
<g id="n177" transform="translate(1014,1940)"><use href="#d" class="a" transform="scale(36)"/></g>
<g id="n178" transform="translate(858,1976)"><use href="#d" class="a" transform="scale(36)"/></g>
<g id="n179" transform="translate(1464,1876)"><use href="#d" class="h" transform="scale(15)"/></g>
<g id="n180" transform="translate(1627,1887)"><use href="#d" class="h" transform="scale(15)"/></g>
<g id="n181" transform="translate(1475,1986)"><use href="#d" class="h" transform="scale(15)"/></g>
<g id="n182" transform="translate(1602,1990)"><use href="#d" class="h" transform="scale(15)"/></g>
<g id="n183" transform="translate(2656,1716)"><use href="#d" class="h" transform="scale(42)"/></g>
<g id="n184" transform="translate(2789,1811)"><use href="#d" class="h" transform="scale(28)"/></g>
<g id="n185" transform="translate(2893,1764)"><use href="#d" class="h" transform="scale(28)"/></g>
<g id="n186" transform="translate(2776,1919)"><use href="#d" class="h" transform="scale(28)"/></g>
<g id="n187" transform="translate(2952,1919)"><use href="#d" class="h" transform="scale(15)"/></g>
</g>
</g>
<g id="labels">
<text class="lbl" x="1318" y="558" textLength="267" lengthAdjust="spacingAndGlyphs">Space Network</text>
<text class="lbl" x="1180" y="659" textLength="342" lengthAdjust="spacingAndGlyphs">bitterly cold region</text>
<text class="lbl" x="1790" y="592" textLength="359" lengthAdjust="spacingAndGlyphs">Correlation Analysis</text>
<text class="lbl" x="839" y="778" textLength="361" lengthAdjust="spacingAndGlyphs">Spatial performance</text>
<text class="lbl" x="1177" y="812" textLength="289" lengthAdjust="spacingAndGlyphs">System Network</text>
<text class="lbl" x="2105" y="778" textLength="494" lengthAdjust="spacingAndGlyphs">Carbon Emissions Modeling</text>
<text class="lbl" x="1754" y="865" textLength="342" lengthAdjust="spacingAndGlyphs">Parametric Retrofit</text>
<text class="lbl" x="2307" y="906" textLength="218" lengthAdjust="spacingAndGlyphs">Living space</text>
<text class="lbl" x="2537" y="984" textLength="399" lengthAdjust="spacingAndGlyphs">Heritage Conservation</text>
<text class="lbl" x="1485" y="1003" textLength="346" lengthAdjust="spacingAndGlyphs">Low carbon retrofit</text>
<text class="lbl" x="1118" y="1040" textLength="372" lengthAdjust="spacingAndGlyphs">Hierarchical Analysis</text>
<text class="lbl sm" x="1796" y="1056" textLength="165" lengthAdjust="spacingAndGlyphs">Microclimate</text>
<text class="lbl" x="2136" y="1068" textLength="337" lengthAdjust="spacingAndGlyphs">Industrial Heritage</text>
<text class="lbl" x="1762" y="1142" textLength="279" lengthAdjust="spacingAndGlyphs">Retrofit strategy</text>
<text class="lbl" x="1450" y="1185" textLength="309" lengthAdjust="spacingAndGlyphs">System Dynamics</text>
<text class="lbl" x="1994" y="1221" textLength="267" lengthAdjust="spacingAndGlyphs">Historic District</text>
<text class="lbl" x="750" y="1238" textLength="431" lengthAdjust="spacingAndGlyphs">Performance Simulation</text>
<text class="lbl" x="1280" y="1303" textLength="420" lengthAdjust="spacingAndGlyphs">Community Renovation</text>
<text class="lbl" x="1830" y="1359" textLength="553" lengthAdjust="spacingAndGlyphs">Industrial Heritage Community</text>
<text class="lbl sm" x="1348" y="1376" textLength="364" lengthAdjust="spacingAndGlyphs">Outdoor comfort simulation</text>
<text class="lbl" x="1456" y="1555" textLength="336" lengthAdjust="spacingAndGlyphs">Stock Development</text>
<text class="lbl" x="2335" y="1615" textLength="325" lengthAdjust="spacingAndGlyphs">Older communities</text>
</g>
<g id="legend">
<rect x="47" y="1331" width="138" height="43.5" fill="#f3e629"/>
<rect x="47" y="1374" width="138" height="43.5" fill="#fbc82b"/>
<rect x="47" y="1417.5" width="138" height="43.5" fill="#fcab35"/>
<rect x="47" y="1461" width="138" height="43.5" fill="#f58d4b"/>
<rect x="47" y="1504" width="138" height="43.5" fill="#e8745c"/>
<rect x="47" y="1547.5" width="138" height="43.5" fill="#d95b6c"/>
<rect x="47" y="1591" width="138" height="43.5" fill="#c6487f"/>
<rect x="47" y="1634" width="138" height="43" fill="#b22d91"/>
<text class="lg2" x="113" y="1363">2022</text>
<text class="lg2" x="113" y="1406">2021</text>
<text class="lg2" x="113" y="1449">2020</text>
<text class="lg2" x="113" y="1493">2019</text>
<text class="lg2" x="113" y="1536">2018</text>
<text class="lg2" x="113" y="1579">2017</text>
<text class="lg2" x="113" y="1623">2016</text>
<text class="lg2" x="113" y="1666">2015</text>
</g>
</svg>
